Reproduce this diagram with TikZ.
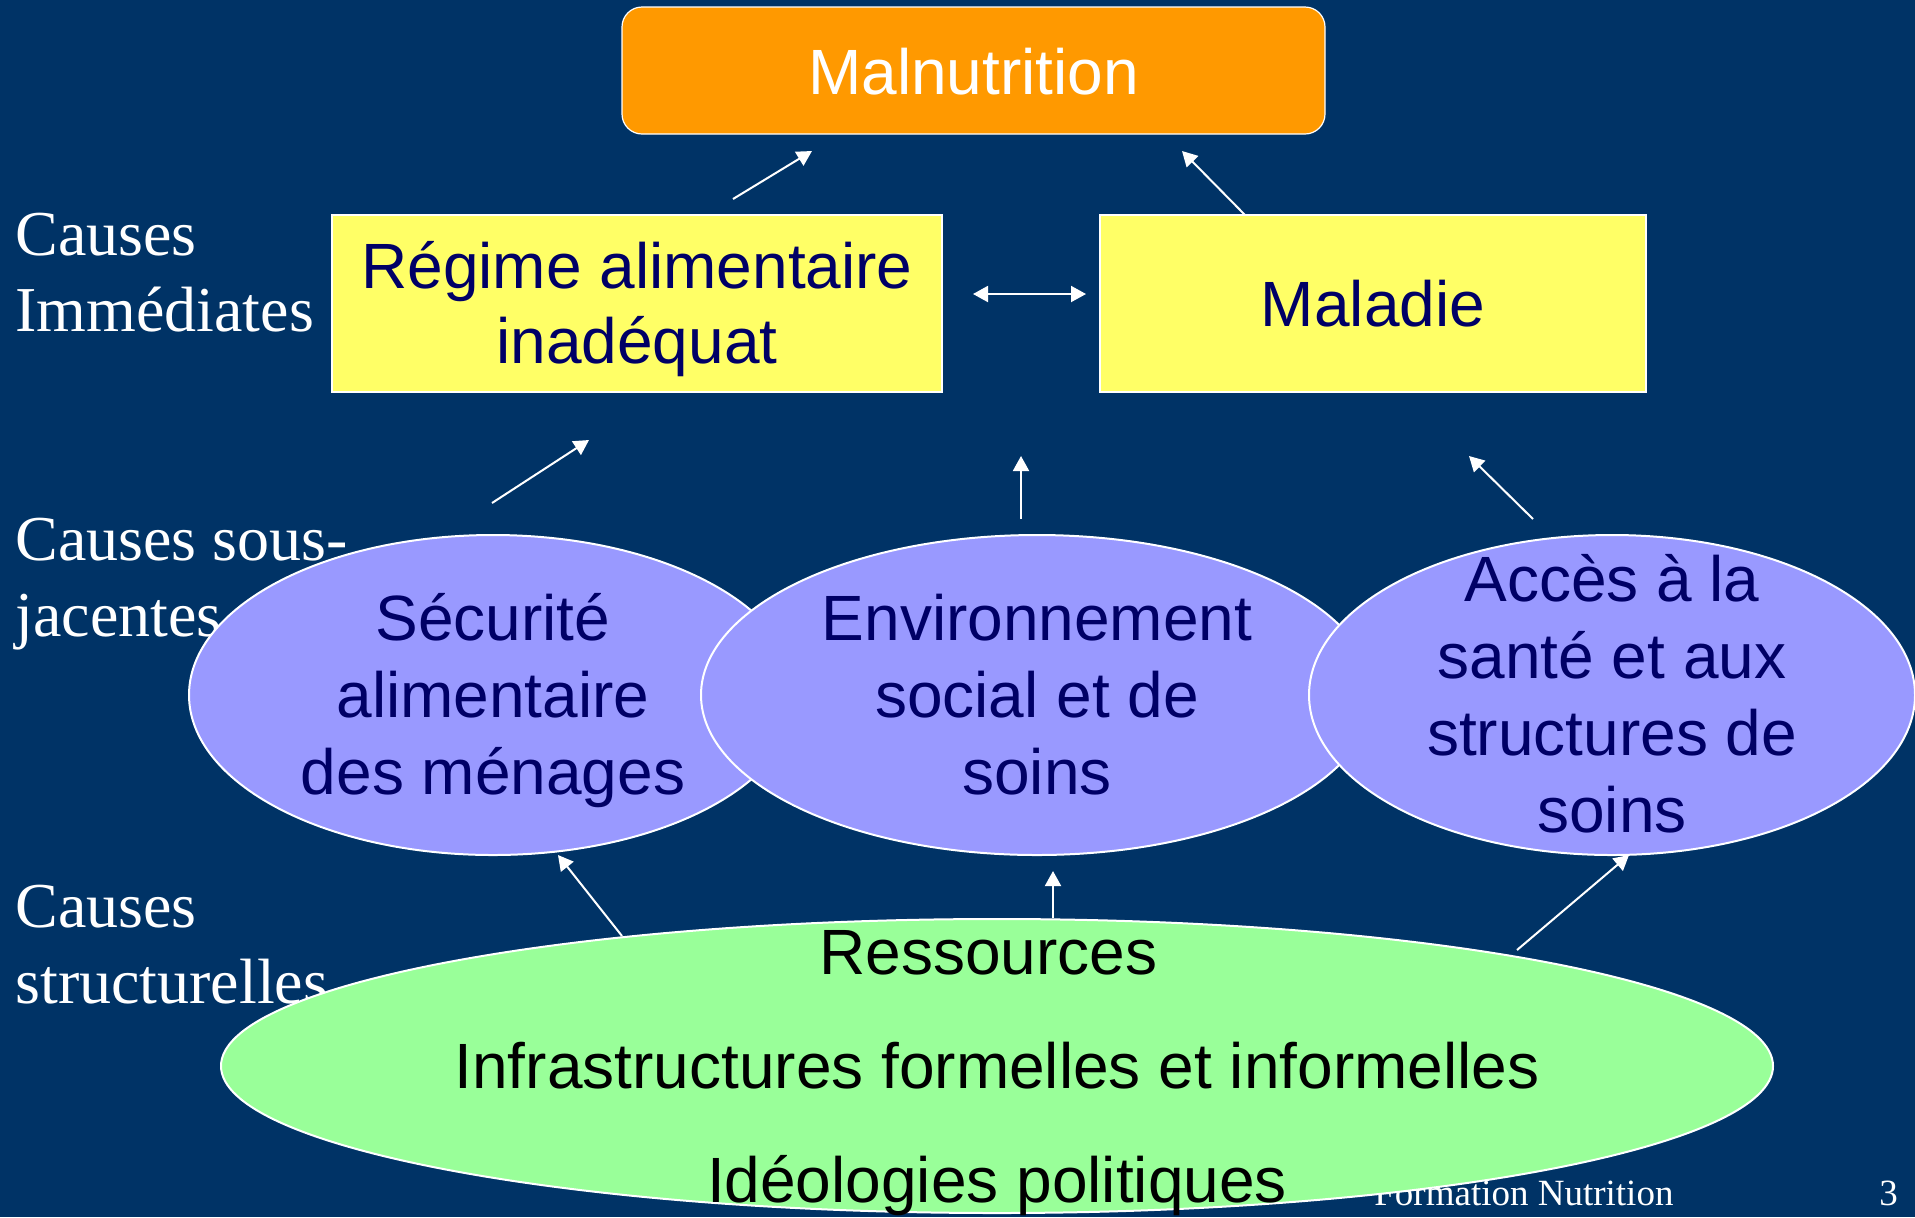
\documentclass[tikz,border=0pt]{standalone}
\usepackage{fontspec}
\setmainfont{Liberation Serif}
\setsansfont{Liberation Sans}
\usetikzlibrary{shapes.geometric,arrows.meta}

\definecolor{slidebg}{HTML}{003366}
\definecolor{malorange}{HTML}{FF9900}
\definecolor{boxyellow}{HTML}{FFFF66}
\definecolor{ovalblue}{HTML}{9999FF}
\definecolor{ovalgreen}{HTML}{99FF99}
\definecolor{txtnavy}{HTML}{000066}
% line ascent / descent as in the slide
\newcommand\pptstrut[1][0pt]{\rule{0pt}{\dimexpr0.905em+#1\relax}}

\begin{document}
\begin{tikzpicture}[x=0.5pt, y=-0.5pt,
    every node/.style={inner sep=0pt},
    ppt/.style={align=center, execute at end node={\rule[-0.212em]{0pt}{0pt}}},
    box/.style={ppt, rectangle, draw=white, line width=0.6pt, fill=boxyellow, text=txtnavy,
      font=\sffamily\fontsize{32}{37.5}\selectfont, minimum height=88.5pt},
    oval/.style={ppt, ellipse, draw=white, line width=1pt, fill=ovalblue, text=txtnavy,
      font=\sffamily\fontsize{32}{38.5}\selectfont, inner xsep=0pt, inner ysep=-40pt,
      minimum height=160pt},
    tier/.style={anchor=north west, text=white, align=left, font=\fontsize{32}{38}\selectfont},
    foot/.style={anchor=base west, text=white, font=\fontsize{18.5}{22}\selectfont},
    link/.style={->, >={Triangle[length=7.5pt, width=8pt]}, draw=white, line width=1pt}]

  % Background
  \useasboundingbox (0,0) rectangle (1915,1217);
  \fill[slidebg] (0,0) rectangle (1915,1217);

  % Levels
  \node[tier] (imm) at (15,213) {Causes\\Immédiates};
  \node[tier] (sous) at (15,518) {Causes sous-\\jacentes};
  \node[tier] (struct) at (15,885) {Causes\\structurelles};
  \node[foot] (form) at (1374,1205) {Formation Nutrition};
  \node[foot] (num) at (1879,1205) {3};

  % Nodes
  \node[ppt, rounded corners=10pt, draw=white, line width=0.6pt, fill=malorange, text=white,
    font=\sffamily\fontsize{32}{37.5}\selectfont, minimum width=351.5pt, minimum height=63.5pt]
    (mal) at (973.5,70.5) {\pptstrut[2pt]Malnutrition};
  \node[box, minimum width=305pt] (reg) at (637,303.5) {\pptstrut Régime alimentaire\\inadéquat};
  \node[box, minimum width=273pt] (mala) at (1373,303.5) {\pptstrut[1pt]Maladie};
  \node[oval, minimum width=304pt] (secu) at (493,695) {\pptstrut Sécurité\\alimentaire\\des ménages};
  \node[oval, minimum width=336pt] (envi) at (1037,695) {\pptstrut Environnement\\social et de\\soins};
  \node[oval, minimum width=303pt] (acces) at (1612,695)
    {\pptstrut Accès à la\\santé et aux\\structures de\\soins};
  \node[oval, fill=ovalgreen, text=black, font=\sffamily\fontsize{32}{57}\selectfont,
    minimum width=776pt, minimum height=147pt] (res) at (997,1066)
    {\pptstrut Ressources\hspace*{8.5pt}\\Infrastructures formelles et informelles\\Idéologies politiques};

  % Arrow ends
  \coordinate (r2m-a) at (733,199);  \coordinate (r2m-b) at (812,151);
  \coordinate (d2m-a) at (1245,215); \coordinate (d2m-b) at (1182,151);
  \coordinate (rd-a) at (973,294);   \coordinate (rd-b) at (1086,294);
  \coordinate (s2r-a) at (492,503);  \coordinate (s2r-b) at (589,440);
  \coordinate (e2c-a) at (1021,519); \coordinate (e2c-b) at (1021,456);
  \coordinate (a2d-a) at (1533,519); \coordinate (a2d-b) at (1469,456);
  \coordinate (g2s-a) at (622,936);  \coordinate (g2s-b) at (558,855);
  \coordinate (g2e-a) at (1053,918); \coordinate (g2e-b) at (1053,871);
  \coordinate (g2a-a) at (1517,950); \coordinate (g2a-b) at (1629,855);

  % Directed edges
  \draw[link] (r2m-a) -- (r2m-b);
  \draw[link] (d2m-a) -- (d2m-b);
  \draw[link, <->] (rd-a) -- (rd-b);
  \draw[link] (s2r-a) -- (s2r-b);
  \draw[link] (e2c-a) -- (e2c-b);
  \draw[link] (a2d-a) -- (a2d-b);
  \draw[link] (g2s-a) -- (g2s-b);
  \draw[link] (g2e-a) -- (g2e-b);
  \draw[link] (g2a-a) -- (g2a-b);

\end{tikzpicture}
\end{document}
